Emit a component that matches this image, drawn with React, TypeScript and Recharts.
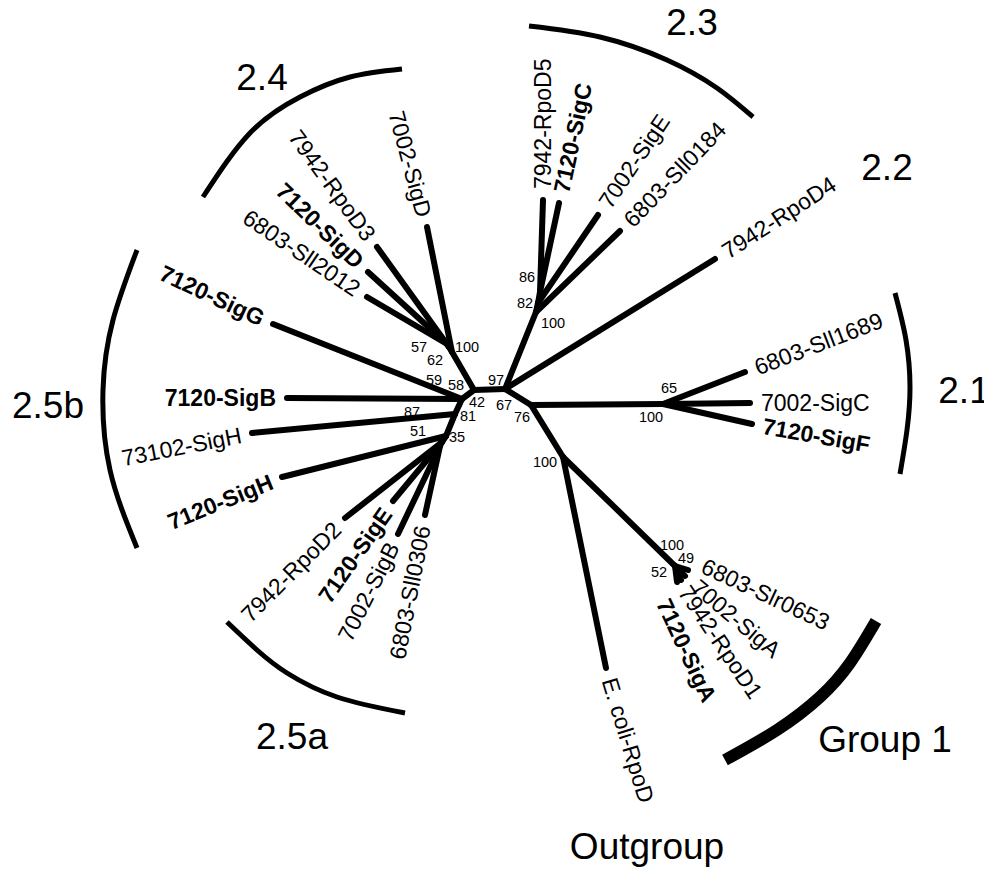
import { ScatterChart, Scatter, XAxis, YAxis } from "recharts";

// Layout units are the pixels of the original figure (x right, y down).
// Internal nodes of the unrooted tree
const nodes = [
  { id: "a", x: 474, y: 390 },
  { id: "b", x: 505, y: 389 },
  { id: "c", x: 531, y: 405 },
  { id: "d", x: 663, y: 404 },
  { id: "e", x: 563, y: 457 },
  { id: "g1", x: 675, y: 566 },
  { id: "n23", x: 536, y: 312 },
  { id: "n82", x: 538, y: 303 },
  { id: "n86", x: 540, y: 292 },
  { id: "n24", x: 452, y: 352 },
  { id: "n62", x: 449, y: 347 },
  { id: "n57", x: 447, y: 344 },
  { id: "f", x: 462, y: 399 },
  { id: "n87", x: 455, y: 414 },
  { id: "n81", x: 446, y: 436 },
  { id: "n25a", x: 442, y: 442 },
  { id: "n35", x: 440, y: 446 },
];

const branches = [
  ["a", "b"], ["b", "n23"], ["n23", "n82"], ["n82", "n86"],
  ["b", "c"], ["c", "d"], ["c", "e"], ["e", "g1"],
  ["a", "n24"], ["n24", "n62"], ["n62", "n57"],
  ["a", "f"], ["f", "n87"], ["n87", "n81"], ["n81", "n25a"], ["n25a", "n35"],
];

// Leaves: tip position, parent node, label angle (deg)
const leaves = [
  { name: "7002-SigD", x: 427, y: 227, parent: "n24", angle: 75, bold: false },
  { name: "7942-RpoD3", x: 377, y: 247, parent: "n62", angle: 54, bold: false },
  { name: "7120-SigD", x: 368, y: 272, parent: "n57", angle: 44, bold: true },
  { name: "6803-Sll2012", x: 367, y: 297, parent: "n57", angle: 34, bold: false },
  { name: "7120-SigG", x: 273, y: 324, parent: "f", angle: 25, bold: true },
  { name: "7120-SigB", x: 287, y: 398, parent: "f", angle: 0, bold: true },
  { name: "73102-SigH", x: 252, y: 433, parent: "n87", angle: -11, bold: false },
  { name: "7120-SigH", x: 282, y: 477, parent: "n81", angle: -22, bold: true },
  { name: "7942-RpoD2", x: 345, y: 518, parent: "n25a", angle: -45, bold: false },
  { name: "7120-SigE", x: 393, y: 501, parent: "n25a", angle: -55, bold: true },
  { name: "7002-SigB", x: 398, y: 534, parent: "n35", angle: -63, bold: false },
  { name: "6803-Sll0306", x: 425, y: 515, parent: "n35", angle: -79, bold: false },
  { name: "7942-RpoD5", x: 543, y: 200, parent: "n86", angle: -90, bold: false },
  { name: "7120-SigC", x: 559, y: 203, parent: "n86", angle: -78, bold: true },
  { name: "7002-SigE", x: 598, y: 215, parent: "n82", angle: -56, bold: false },
  { name: "6803-Sll0184", x: 620, y: 231, parent: "n23", angle: -46, bold: false },
  { name: "7942-RpoD4", x: 715, y: 259, parent: "b", angle: -33, bold: false },
  { name: "6803-Sll1689", x: 745, y: 372, parent: "d", angle: -21, bold: false },
  { name: "7002-SigC", x: 750, y: 403, parent: "d", angle: 0, bold: false },
  { name: "7120-SigF", x: 752, y: 424, parent: "d", angle: 10, bold: true },
  { name: "6803-Slr0653", x: 688, y: 570, parent: "g1", angle: 25, bold: false, lx: 703, ly: 565 },
  { name: "7002-SigA", x: 685, y: 576, parent: "g1", angle: 40, bold: false, lx: 695, ly: 584 },
  { name: "7942-RpoD1", x: 681, y: 580, parent: "g1", angle: 56, bold: false, lx: 684, ly: 588 },
  { name: "7120-SigA", x: 677, y: 582, parent: "g1", angle: 65, bold: true, lx: 663, ly: 600 },
  { name: "E. coli-RpoD", x: 606, y: 668, parent: "e", angle: 73, bold: false },
];

// Bootstrap values
const bootstraps = [
  { value: "100", x: 467, y: 347 }, { value: "57", x: 419, y: 347 },
  { value: "62", x: 435, y: 360 }, { value: "59", x: 434, y: 380 },
  { value: "58", x: 456, y: 385 }, { value: "42", x: 477, y: 402 },
  { value: "97", x: 496, y: 380 }, { value: "67", x: 504, y: 405 },
  { value: "76", x: 522, y: 417 }, { value: "87", x: 412, y: 412 },
  { value: "81", x: 468, y: 416 }, { value: "51", x: 418, y: 431 },
  { value: "35", x: 457, y: 437 }, { value: "86", x: 527, y: 277 },
  { value: "82", x: 525, y: 303 }, { value: "100", x: 553, y: 323 },
  { value: "65", x: 669, y: 388 }, { value: "100", x: 651, y: 417 },
  { value: "100", x: 545, y: 462 }, { value: "100", x: 672, y: 545 },
  { value: "49", x: 686, y: 558 }, { value: "52", x: 659, y: 572 },
];

// Clade names
const clades = [
  { name: "2.4", x: 262, y: 77 },
  { name: "2.3", x: 692, y: 22 },
  { name: "2.2", x: 887, y: 167 },
  { name: "2.1", x: 964, y: 390 },
  { name: "2.5b", x: 48, y: 405 },
  { name: "2.5a", x: 292, y: 736 },
  { name: "Group 1", x: 885, y: 739 },
  { name: "Outgroup", x: 647, y: 846 },
];

// Clade brackets (points read along each arc)
const arc24 = [{ x: 203, y: 197 }, { x: 250, y: 133 }, { x: 300, y: 97 }, { x: 350, y: 77 }, { x: 402, y: 69 }];
const arc23 = [{ x: 529, y: 26 }, { x: 600, y: 37 }, { x: 667, y: 60 }, { x: 717, y: 88 }, { x: 753, y: 117 }];
const arc21 = [{ x: 895, y: 293 }, { x: 906, y: 340 }, { x: 910, y: 387 }, { x: 907, y: 430 }, { x: 900, y: 474 }];
const arc25b = [{ x: 137, y: 250 }, { x: 113, y: 320 }, { x: 103, y: 390 }, { x: 110, y: 470 }, { x: 137, y: 548 }];
const arc25a = [{ x: 227, y: 622 }, { x: 257, y: 650 }, { x: 287, y: 673 }, { x: 337, y: 697 }, { x: 405, y: 713 }];
const arcGroup1 = [{ x: 876, y: 621 }, { x: 850, y: 663 }, { x: 820, y: 697 }, { x: 777, y: 730 }, { x: 725, y: 760 }];

const FONT = "'Liberation Sans', Arial, Helvetica, sans-serif";
const nodeById: Record<string, { x: number; y: number }> = {};
for (const n of nodes) nodeById[n.id] = n;

const edges = [
  ...branches.map(([p, q]) => [nodeById[p], nodeById[q]]),
  ...leaves.map((l) => [nodeById[l.parent], { x: l.x, y: l.y }]),
];

const labelData = leaves.map((l) => ({
  ...l,
  tipX: l.x,
  x: l.lx ?? l.x,
  y: l.ly ?? l.y,
  gap: l.lx != null ? 0 : 11,
}));

const noDot = () => <g />;

const LeafLabel = (props: any) => {
  const { cx, cy, payload } = props;
  const rad = (payload.angle * Math.PI) / 180;
  const end = payload.tipX < nodeById[payload.parent].x;
  const s = end ? -1 : 1;
  const tx = cx + s * payload.gap * Math.cos(rad);
  const ty = cy + s * payload.gap * Math.sin(rad);
  return (
    <text
      x={tx}
      y={ty}
      transform={`rotate(${payload.angle} ${tx} ${ty})`}
      textAnchor={end ? "end" : "start"}
      dominantBaseline="central"
      fontSize={23}
      fontWeight={payload.bold ? 700 : 400}
      fontFamily={FONT}
      fill="#000"
    >
      {payload.name}
    </text>
  );
};

const BootLabel = (props: any) => (
  <text x={props.cx} y={props.cy} textAnchor="middle" dominantBaseline="central" fontSize={14.5} fontFamily={FONT} fill="#000">
    {props.payload.value}
  </text>
);

const CladeLabel = (props: any) => (
  <text x={props.cx} y={props.cy} textAnchor="middle" dominantBaseline="central" fontSize={37} fontFamily={FONT} fill="#000">
    {props.payload.name}
  </text>
);

export default function App() {
  const arcs = [arc24, arc23, arc21, arc25b, arc25a];
  return (
    <div style={{ width: 992, height: 870, margin: "-8px 0 0 -8px", background: "#fff" }}>
      <ScatterChart width={992} height={870} margin={{ top: 0, right: 0, bottom: 0, left: 0 }}>
        <XAxis type="number" dataKey="x" domain={[0, 992]} allowDataOverflow hide />
        <YAxis type="number" dataKey="y" domain={[0, 870]} allowDataOverflow reversed hide />
        {arcs.map((a, i) => (
          <Scatter
            key={"arc" + i}
            data={a}
            line={{ stroke: "#000", strokeWidth: 5 }}
            lineJointType="natural"
            shape={noDot}
            isAnimationActive={false}
          />
        ))}
        <Scatter
          data={arcGroup1}
          line={{ stroke: "#000", strokeWidth: 12 }}
          lineJointType="natural"
          shape={noDot}
          isAnimationActive={false}
        />
        {edges.map((e, i) => (
          <Scatter
            key={"edge" + i}
            data={e}
            line={{ stroke: "#000", strokeWidth: 6, strokeLinecap: "round" }}
            shape={noDot}
            isAnimationActive={false}
          />
        ))}
        <Scatter data={labelData} shape={LeafLabel} isAnimationActive={false} />
        <Scatter data={bootstraps} shape={BootLabel} isAnimationActive={false} />
        <Scatter data={clades} shape={CladeLabel} isAnimationActive={false} />
      </ScatterChart>
    </div>
  );
}
